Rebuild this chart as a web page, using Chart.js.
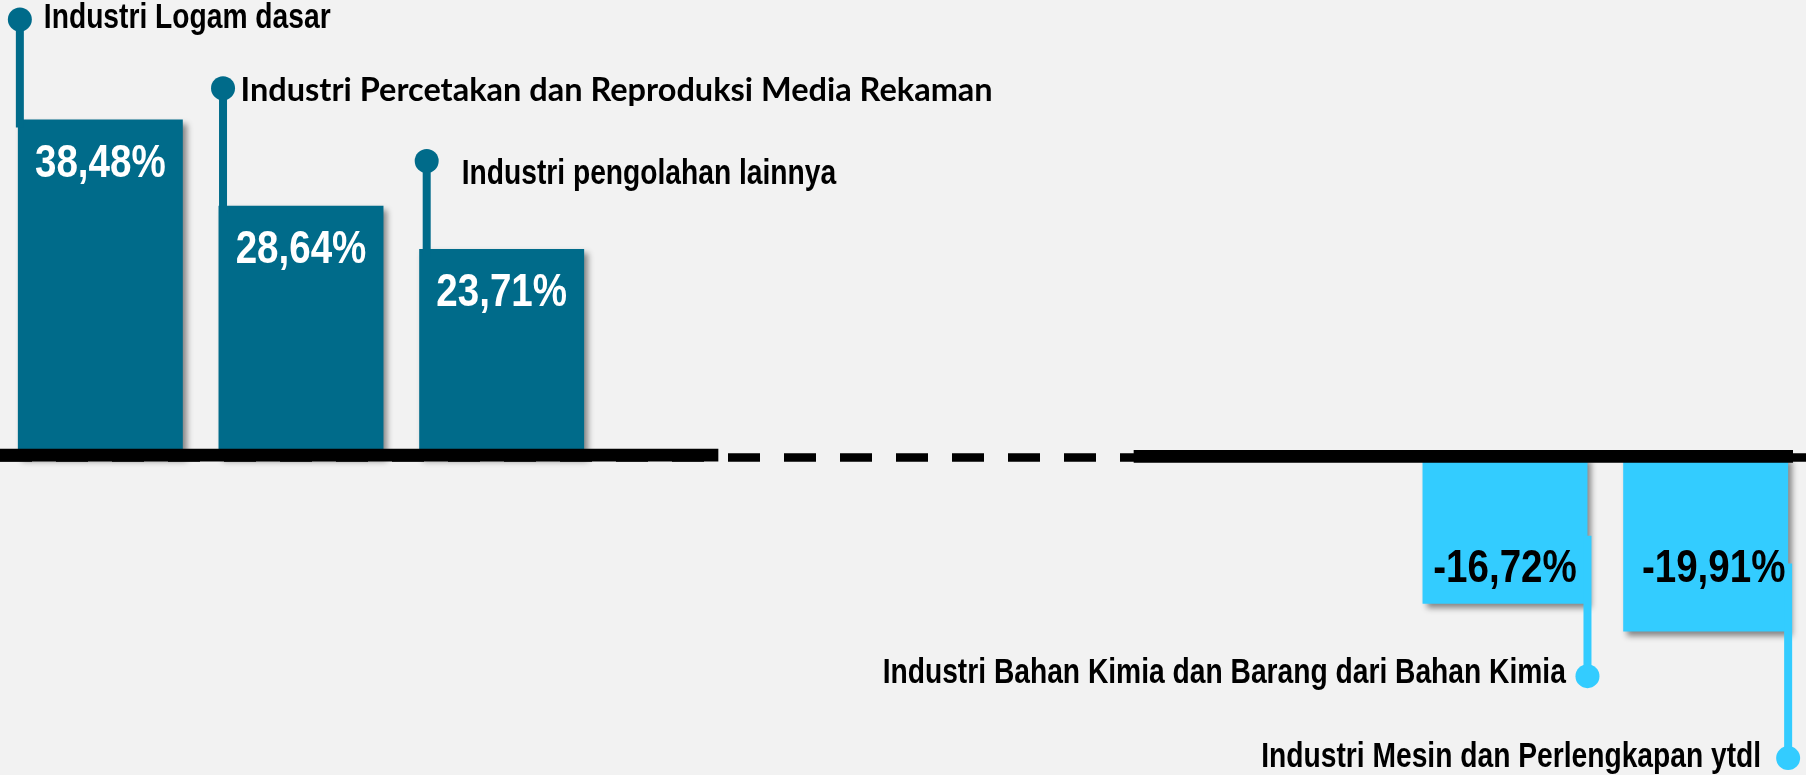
<!DOCTYPE html>
<html>
<head>
<meta charset="utf-8">
<script src="https://cdn.jsdelivr.net/npm/chart.js@4.4.1/dist/chart.umd.min.js"></script>
<style>
  html, body { margin: 0; padding: 0; background: #F2F2F2; }
  #wrap { position: relative; width: 1806px; height: 775px; }
</style>
</head>
<body>
<div id="wrap"><canvas id="chart"></canvas></div>
<script>
// ---------------- DATA ----------------
const categories = [
  'Industri Logam dasar',
  'Industri Percetakan dan Reproduksi Media Rekaman',
  'Industri pengolahan lainnya',
  'Industri Bahan Kimia dan Barang dari Bahan Kimia',
  'Industri Mesin dan Perlengkapan ytdl'
];
const growth = [38.48, 28.64, 23.71, -16.72, -19.91];

// ---------------- LAYOUT / STYLE ----------------
const GAP_AFTER = 3;      // empty slots are inserted after the 3 positive bars
const GAP_SLOTS = 4;
const COLOR_UP = '#006B8A';
const COLOR_DOWN = '#33CCFF';

// callout annotation layout (pixels), one entry per category
const calloutLayout = [
  { lineX: 2,   lift: 100,   dx: 24,    dy: 8.5,  humanist: false },
  { lineX: 4.5, lift: 117.5, dx: 17.5,  dy: 12.4, humanist: true  },
  { lineX: 7.5, lift: 88,    dx: 35,    dy: 22.6, humanist: false },
  { lineX: 0,   lift: 72.5,  dx: -21.6, dy: 7.3,  humanist: false },
  { lineX: 0,   lift: 126.5, dx: -27,   dy: 8.4,  humanist: false }
];
const valueLabelDx = [0, 0, 0, 0, 8];

// build axis slots
const slotLabels = [];
const slotValues = [];
const slotSource = [];
categories.forEach((c, i) => {
  if (i === GAP_AFTER) {
    for (let g = 0; g < GAP_SLOTS; g++) { slotLabels.push(''); slotValues.push(null); slotSource.push(-1); }
  }
  slotLabels.push(c); slotValues.push(growth[i]); slotSource.push(i);
});

const NARROW_OK = (() => {
  const c = document.createElement('canvas').getContext('2d');
  c.font = 'bold 40px monospace';
  const a = c.measureText('Industri Logam dasar').width;
  c.font = 'bold 40px "Liberation Sans Narrow", monospace';
  const b = c.measureText('Industri Logam dasar').width;
  return Math.abs(a - b) > 1;
})();

function drawNarrow(ctx, text, x, y, size, color, align) {
  ctx.save();
  ctx.fillStyle = color;
  ctx.textBaseline = 'alphabetic';
  ctx.textAlign = align;
  if (NARROW_OK) {
    ctx.font = 'bold ' + size + 'px "Liberation Sans Narrow"';
    ctx.fillText(text, x, y);
  } else {
    ctx.font = 'bold ' + size + 'px "Liberation Sans", Arial, sans-serif';
    ctx.translate(x, y);
    ctx.scale(0.82, 1);
    ctx.fillText(text, 0, 0);
  }
  ctx.restore();
}

function fmt(v) {
  return v.toFixed(2).replace('.', ',') + '%';
}

const shadowPlugin = {
  id: 'barShadow',
  beforeDatasetDraw(chart) {
    const ctx = chart.ctx;
    ctx.save();
    ctx.shadowColor = 'rgba(0,0,0,0.45)';
    ctx.shadowBlur = 6;
    ctx.shadowOffsetX = 4;
    ctx.shadowOffsetY = 4;
  },
  afterDatasetDraw(chart) {
    chart.ctx.restore();
  }
};

const overlayPlugin = {
  id: 'overlay',
  afterDatasetsDraw(chart) {
    const ctx = chart.ctx;
    const area = chart.chartArea;
    const xs = chart.scales.x;
    const ys = chart.scales.y;
    const zero = ys.getPixelForValue(0);

    // baseline: dashed line + thick solid segments
    ctx.save();
    ctx.strokeStyle = '#000';
    ctx.setLineDash([32, 24]);
    ctx.lineWidth = 8.4;
    ctx.beginPath();
    ctx.moveTo(area.left, zero + 0.5);
    ctx.lineTo(area.right, zero + 0.5);
    ctx.stroke();
    ctx.setLineDash([]);
    ctx.lineWidth = 12.8;
    ctx.beginPath();
    ctx.moveTo(area.left, zero - 1.9);
    ctx.lineTo(xs.getPixelForValue(GAP_AFTER) + 16, zero - 1.9);
    ctx.moveTo(xs.getPixelForValue(GAP_AFTER + 2) + 30, zero - 0.6);
    ctx.lineTo(area.right - 13, zero - 0.6);
    ctx.stroke();
    ctx.restore();

    const meta = chart.getDatasetMeta(0);
    slotSource.forEach((src, slot) => {
      if (src < 0) return;
      const bar = meta.data[slot];
      const v = growth[src];
      const L = calloutLayout[src];
      const up = v >= 0;
      const color = up ? COLOR_UP : COLOR_DOWN;
      const half = bar.width / 2;
      let lx, cy, y1, y2;
      if (up) {
        lx = bar.x - half + L.lineX;
        cy = bar.y - L.lift;
        y1 = cy; y2 = bar.y + 8;
      } else {
        lx = bar.x + half + L.lineX;
        cy = bar.y + L.lift;
        y1 = bar.y - 68; y2 = cy;
      }
      // callout stem and dot
      ctx.save();
      ctx.strokeStyle = color;
      ctx.fillStyle = color;
      ctx.lineWidth = 8;
      ctx.beginPath();
      ctx.moveTo(lx, y1);
      ctx.lineTo(lx, y2);
      ctx.stroke();
      ctx.beginPath();
      ctx.arc(lx, cy, 12, 0, Math.PI * 2);
      ctx.fill();
      ctx.restore();

      // callout text
      const tx = lx + L.dx, ty = cy + L.dy;
      const align = up ? 'left' : 'right';
      if (L.humanist) {
        ctx.save();
        ctx.fillStyle = '#000';
        ctx.textAlign = align;
        ctx.textBaseline = 'alphabetic';
        ctx.font = 'bold 32.5px Lato, "Open Sans", sans-serif';
        ctx.fillText(categories[src], tx, ty);
        ctx.restore();
      } else {
        drawNarrow(ctx, categories[src], tx, ty, 34.4, '#000', align);
      }

      // value label
      const vx = bar.x + valueLabelDx[src];
      const vy = up ? bar.y + 57 : zero + 124.5;
      drawNarrow(ctx, fmt(v), vx, vy, 47, up ? '#FFFFFF' : '#000000', 'center');
    });
  }
};

new Chart(document.getElementById('chart'), {
  type: 'bar',
  data: {
    labels: slotLabels,
    datasets: [{
      data: slotValues,
      backgroundColor: slotValues.map(v => (v !== null && v < 0) ? COLOR_DOWN : COLOR_UP),
      borderWidth: 0,
      barPercentage: 0.822,
      categoryPercentage: 1
    }]
  },
  options: {
    responsive: true,
    maintainAspectRatio: false,
    animation: false,
    layout: { padding: 0 },
    plugins: {
      legend: { display: false },
      title: { display: false },
      tooltip: { enabled: false }
    },
    scales: {
      x: { display: false, offset: true, grid: { display: false } },
      y: { display: false, min: -36.26, max: 52.11, grid: { display: false } }
    }
  },
  plugins: [shadowPlugin, overlayPlugin]
});
</script>
</body>
</html>
